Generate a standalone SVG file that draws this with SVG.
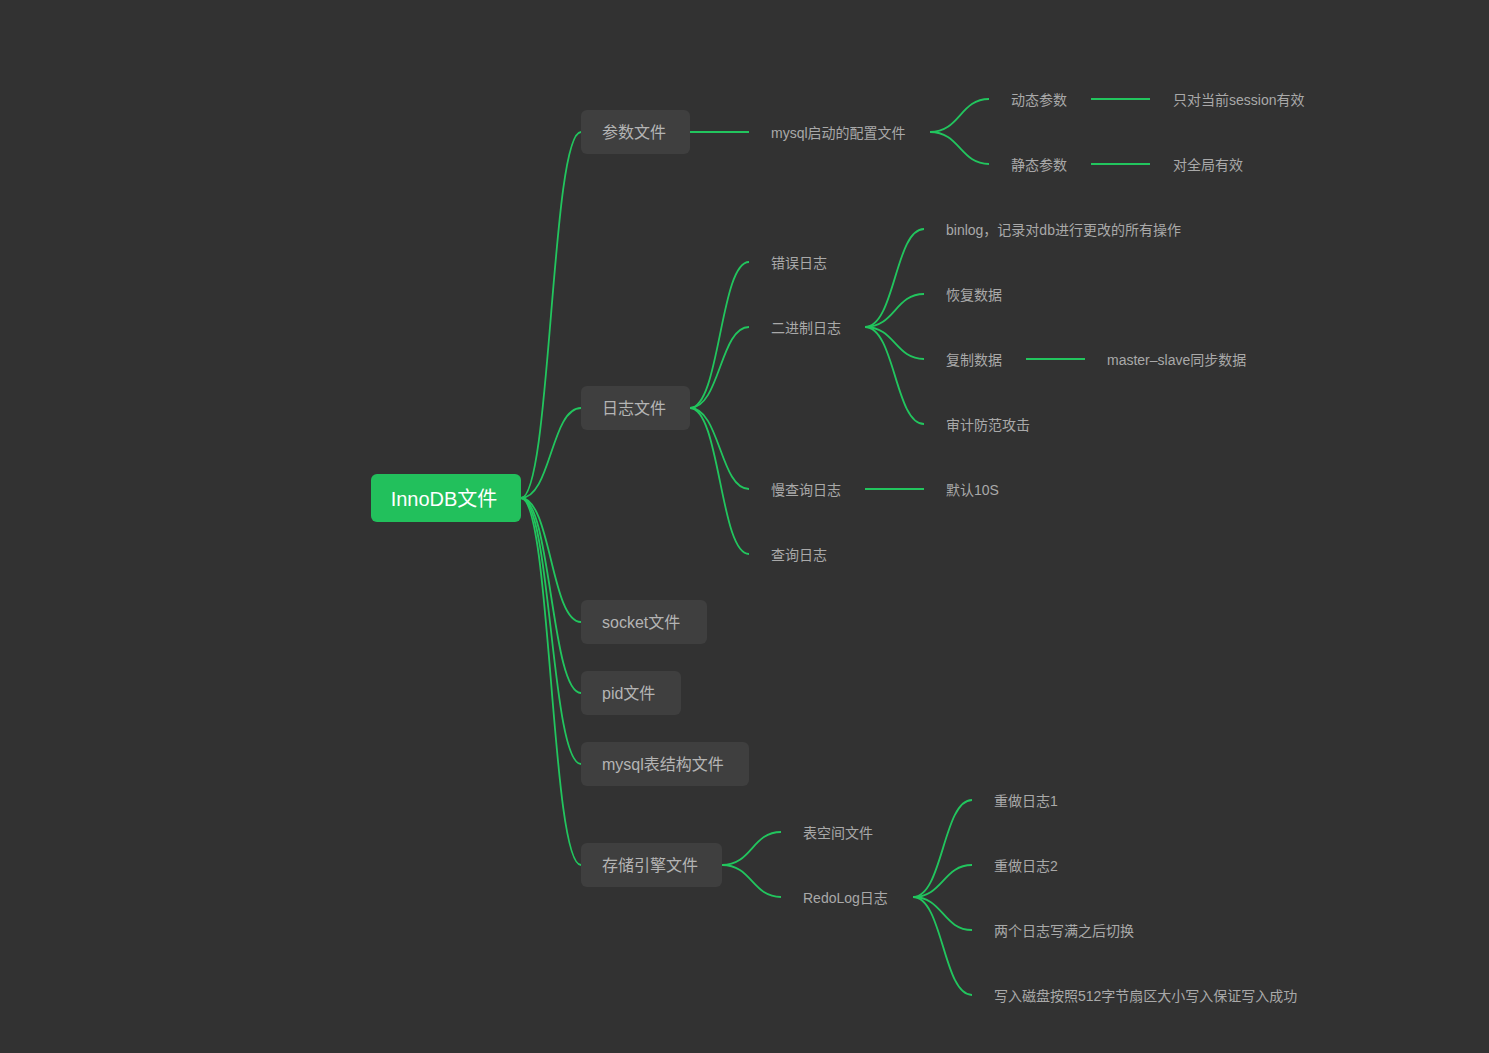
<svg xmlns="http://www.w3.org/2000/svg" width="1489" height="1053" viewBox="0 0 1489 1053">
<style>
text{font-family:"Liberation Sans","Noto Sans CJK SC",sans-serif;}
.l1 rect{fill:#3f3f3f;}
.l1 text{font-size:16px;fill:#b4b4b4;}
.t{font-size:14px;fill:#a9a9a9;}
.c path{fill:none;stroke:#22c55e;stroke-width:1.8;}
</style>
<rect width="1489" height="1053" fill="#323232"/>
<g class="c" id="connectors">
<path d="M521,498 C551,498 551,132 581,132"/>
<path d="M521,498 C551,498 551,408 581,408"/>
<path d="M521,498 C551,498 551,622 581,622"/>
<path d="M521,498 C551,498 551,693 581,693"/>
<path d="M521,498 C551,498 551,764 581,764"/>
<path d="M521,498 C551,498 551,865 581,865"/>
<path d="M690,132 L749,132"/>
<path d="M930,132 C960,132 960,99 989,99"/>
<path d="M930,132 C960,132 960,164 989,164"/>
<path d="M1091,99 L1150,99"/>
<path d="M1091,164 L1150,164"/>
<path d="M690,408 C720,408 720,262 749,262"/>
<path d="M690,408 C720,408 720,327 749,327"/>
<path d="M690,408 C720,408 720,489 749,489"/>
<path d="M690,408 C720,408 720,554 749,554"/>
<path d="M865,327 C895,327 895,229 924,229"/>
<path d="M865,327 C895,327 895,294 924,294"/>
<path d="M865,327 C895,327 895,359 924,359"/>
<path d="M865,327 C895,327 895,424 924,424"/>
<path d="M1026,359 L1085,359"/>
<path d="M865,489 L924,489"/>
<path d="M722,865 C752,865 752,832 781,832"/>
<path d="M722,865 C752,865 752,897 781,897"/>
<path d="M913,897 C943,897 943,800 972,800"/>
<path d="M913,897 C943,897 943,865 972,865"/>
<path d="M913,897 C943,897 943,930 972,930"/>
<path d="M913,897 C943,897 943,995 972,995"/>
</g>
<g id="root"><rect x="371" y="474" width="150" height="48" rx="6" fill="#22c05c"/><text x="444" y="506" font-size="20" fill="#ffffff" text-anchor="middle">InnoDB文件</text></g>
<g class="l1" id="n-canshu"><rect x="581" y="110" width="109" height="44" rx="6"/><text x="602" y="138">参数文件</text></g>
<g class="l1" id="n-rizhi"><rect x="581" y="386" width="109" height="44" rx="6"/><text x="602" y="414">日志文件</text></g>
<g class="l1" id="n-socket"><rect x="581" y="600" width="126" height="44" rx="6"/><text x="602" y="628">socket文件</text></g>
<g class="l1" id="n-pid"><rect x="581" y="671" width="100" height="44" rx="6"/><text x="602" y="699">pid文件</text></g>
<g class="l1" id="n-mysqlbiao"><rect x="581" y="742" width="168" height="44" rx="6"/><text x="602" y="770">mysql表结构文件</text></g>
<g class="l1" id="n-cunchu"><rect x="581" y="843" width="141" height="44" rx="6"/><text x="602" y="871">存储引擎文件</text></g>
<g id="n-config"><text class="t" x="771" y="138">mysql启动的配置文件</text></g>
<g id="n-dongtai"><text class="t" x="1011" y="105">动态参数</text></g>
<g id="n-jingtai"><text class="t" x="1011" y="170">静态参数</text></g>
<g id="n-session"><text class="t" x="1173" y="105">只对当前session有效</text></g>
<g id="n-quanju"><text class="t" x="1173" y="170">对全局有效</text></g>
<g id="n-cuowu"><text class="t" x="771" y="268">错误日志</text></g>
<g id="n-erjinzhi"><text class="t" x="771" y="333">二进制日志</text></g>
<g id="n-manchaxun"><text class="t" x="771" y="495">慢查询日志</text></g>
<g id="n-chaxun"><text class="t" x="771" y="560">查询日志</text></g>
<g id="n-binlog"><text class="t" x="946" y="235">binlog，记录对db进行更改的所有操作</text></g>
<g id="n-huifu"><text class="t" x="946" y="300">恢复数据</text></g>
<g id="n-fuzhi"><text class="t" x="946" y="365">复制数据</text></g>
<g id="n-shenji"><text class="t" x="946" y="430">审计防范攻击</text></g>
<g id="n-master"><text class="t" x="1107" y="365">master–slave同步数据</text></g>
<g id="n-moren"><text class="t" x="946" y="495">默认10S</text></g>
<g id="n-biaokongjian"><text class="t" x="803" y="838">表空间文件</text></g>
<g id="n-redolog"><text class="t" x="803" y="903">RedoLog日志</text></g>
<g id="n-chongzuo1"><text class="t" x="994" y="806">重做日志1</text></g>
<g id="n-chongzuo2"><text class="t" x="994" y="871">重做日志2</text></g>
<g id="n-qiehuan"><text class="t" x="994" y="936">两个日志写满之后切换</text></g>
<g id="n-xieru"><text class="t" x="994" y="1001">写入磁盘按照512字节扇区大小写入保证写入成功</text></g>
</svg>
